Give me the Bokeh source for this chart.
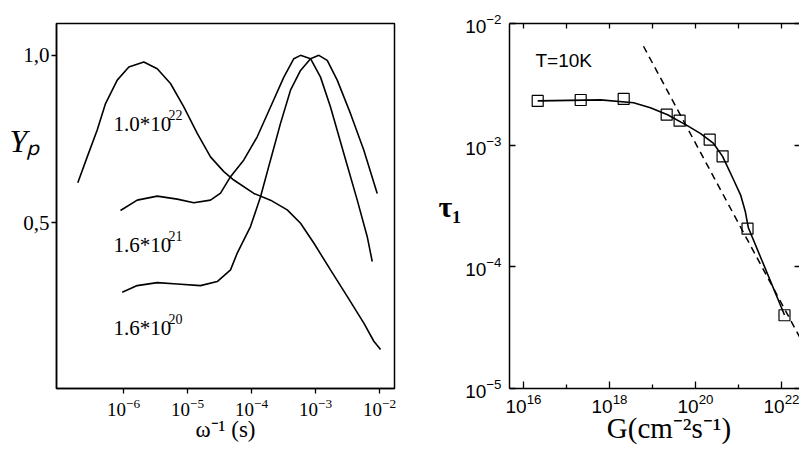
from bokeh.plotting import figure
from bokeh.models import Range1d, FixedTicker, LogAxis, Label
from bokeh.layouts import row
from bokeh.embed import file_html
from bokeh.resources import INLINE

# ---------------- Left panel: Y_P vs omega^-1 (log10 of seconds) ----------------
a_logx = [-6.714, -6.567, -6.411, -6.281, -6.098, -5.917, -5.683, -5.473, -5.266, -5.058,
          -4.848, -4.641, -4.433, -4.277, -3.964, -3.703, -3.442, -3.234, -3.027, -2.766,
          -2.505, -2.245, -2.089, -1.984]
a_y = [0.620, 0.697, 0.777, 0.856, 0.926, 0.965, 0.980, 0.960, 0.916, 0.846,
       0.767, 0.697, 0.653, 0.628, 0.588, 0.568, 0.539, 0.499, 0.440, 0.360,
       0.281, 0.201, 0.147, 0.122]

b_logx = [-6.047, -5.786, -5.473, -5.161, -4.902, -4.641, -4.484, -4.328, -4.120, -3.911,
          -3.703, -3.495, -3.339, -3.234, -3.078, -2.922, -2.766, -2.558, -2.348, -2.192, -2.114]
b_y = [0.537, 0.568, 0.580, 0.571, 0.560, 0.568, 0.589, 0.638, 0.688, 0.757,
       0.846, 0.935, 0.990, 1.000, 0.990, 0.935, 0.846, 0.707, 0.568, 0.459, 0.385]

c_logx = [-6.020, -5.786, -5.473, -5.161, -4.797, -4.536, -4.328, -4.223, -4.016, -3.859,
          -3.703, -3.547, -3.391, -3.234, -3.078, -2.948, -2.817, -2.661, -2.453, -2.245, -2.036]
c_y = [0.293, 0.313, 0.322, 0.318, 0.313, 0.325, 0.360, 0.410, 0.489, 0.578,
       0.688, 0.797, 0.896, 0.955, 0.990, 1.000, 0.985, 0.926, 0.826, 0.717, 0.588]

left_xticks = [1e-6, 1e-5, 1e-4, 1e-3, 1e-2]
left_yticks = [0.5, 1.0]
left_ylabels = {0.5: "0,5", 1.0: "1,0"}

curve_labels = [("1.0*10", "22"), ("1.6*10", "21"), ("1.6*10", "20")]

# ---------------- Right panel: tau_1 vs G ----------------
g_exp = [16.33, 17.33, 18.33, 19.33, 19.63, 20.33, 20.63, 21.21, 22.07]
tau = [2.31e-3, 2.35e-3, 2.40e-3, 1.78e-3, 1.59e-3, 1.11e-3, 8.1e-4, 2.06e-4, 4.0e-5]

fit_g_exp = [16.33, 17.79, 18.56, 18.95, 19.35, 19.81, 20.12, 20.42, 20.63, 20.88,
             21.05, 21.16, 21.23, 22.07]
fit_tau_exp = [-2.636, -2.628, -2.652, -2.693, -2.750, -2.839, -2.905, -2.986, -3.092, -3.280,
               -3.410, -3.548, -3.679, -4.396]

dash_g_exp = [18.79, 22.42]
dash_tau_exp = [-2.187, -4.576]

right_xticks = [1e16, 1e18, 1e20, 1e22]
right_xminor = [1e17, 1e19, 1e21]
right_alldec = [1e16, 1e17, 1e18, 1e19, 1e20, 1e21, 1e22]
right_yticks = [1e-5, 1e-4, 1e-3, 1e-2]

SERIF = "Liberation Serif"
SANS = "Liberation Sans"


def set_orientation(axis):
    try:
        axis.axis_label_orientation = "horizontal"
    except Exception:
        pass


# ================= LEFT FIGURE =================
left = figure(width=400, height=450, x_axis_type="log",
              x_range=Range1d(10 ** -7.047, 10 ** -1.766), y_range=Range1d(0.006, 1.095),
              output_backend="svg", toolbar_location=None,
              min_border_left=56, min_border_right=6, min_border_top=23, min_border_bottom=61)
left.grid.visible = False
left.outline_line_color = "black"
left.outline_line_width = 1.5
left.outline_line_alpha = 1.0

for lx, ly in ((a_logx, a_y), (b_logx, b_y), (c_logx, c_y)):
    left.line([10 ** v for v in lx], ly, line_color="black", line_width=1.6)

xa = left.xaxis[0]
xa.ticker = FixedTicker(ticks=left_xticks)
xa.major_tick_out = 5
xa.major_tick_in = 0
xa.minor_tick_out = 0
xa.minor_tick_in = 0
xa.axis_line_width = 1.5
xa.major_tick_line_width = 1.3
xa.major_label_text_font = SERIF
xa.major_label_text_font_size = "19px"
xa.major_label_text_color = "black"
xa.major_label_standoff = 5
xa.axis_label = "ω⁻¹ (s)"
xa.axis_label_text_font = SERIF
xa.axis_label_text_font_style = "normal"
xa.axis_label_text_font_size = "23px"
xa.axis_label_text_color = "black"
xa.axis_label_standoff = -2

ya = left.yaxis[0]
ya.ticker = FixedTicker(ticks=left_yticks)
ya.major_label_overrides = left_ylabels
ya.major_tick_out = 5
ya.major_tick_in = 0
ya.minor_tick_out = 0
ya.minor_tick_in = 0
ya.axis_line_width = 1.5
ya.major_tick_line_width = 1.3
ya.major_label_text_font = SERIF
ya.major_label_text_font_size = "21px"
ya.major_label_text_color = "black"
ya.major_label_standoff = 2
ya.axis_label = "Yₚ\n\n\n"
ya.axis_label_text_font = SERIF
ya.axis_label_text_font_style = "italic"
ya.axis_label_text_font_size = "32px"
ya.axis_label_text_color = "black"
ya.axis_label_standoff = -20
set_orientation(ya)


def add_label(p, x, y, text, font, size, style="normal", align="left"):
    p.add_layout(Label(x=x, y=y, text=text, text_font=font, text_font_size=size,
                       text_font_style=style, text_align=align,
                       text_baseline="alphabetic", text_color="black"))


# curve labels (base + exponent)
lab_y_main = [0.7946, 0.4345, 0.1875]
lab_y_exp = [0.8214, 0.4613, 0.2143]
for (base, ex), ym, ye in zip(curve_labels, lab_y_main, lab_y_exp):
    add_label(left, 10 ** -6.156, ym, base, SERIF, "21px")
    add_label(left, 10 ** -5.297, ye, ex, SERIF, "14px")

# ================= RIGHT FIGURE =================
right = figure(width=399, height=450, x_axis_type="log", y_axis_type="log",
               x_range=Range1d(10 ** 15.674, 10 ** 22.419), y_range=Range1d(1e-5, 1e-2),
               output_backend="svg", toolbar_location=None,
               min_border_left=109, min_border_right=0, min_border_top=20, min_border_bottom=62)
right.grid.visible = False
right.outline_line_color = None

right.line([10 ** v for v in dash_g_exp], [10 ** v for v in dash_tau_exp],
           line_color="black", line_width=1.5, line_dash="7 5")
right.line([10 ** v for v in fit_g_exp], [10 ** v for v in fit_tau_exp],
           line_color="black", line_width=1.6)
right.scatter([10 ** v for v in g_exp], tau, marker="square", size=11,
              fill_color=None, line_color="black", line_width=1.2)

rx = right.xaxis[0]
rx.ticker = FixedTicker(ticks=right_xticks, minor_ticks=right_xminor)
rx.major_tick_in = 7
rx.major_tick_out = 0
rx.minor_tick_in = 4
rx.minor_tick_out = 0
rx.axis_line_width = 1.5
rx.major_tick_line_width = 1.3
rx.minor_tick_line_width = 1.3
rx.major_label_text_font = SANS
rx.major_label_text_font_size = "19px"
rx.major_label_text_color = "black"
rx.major_label_standoff = 5
rx.axis_label = "\u00a0\u00a0\u00a0\u00a0G(cm⁻²s⁻¹)"
rx.axis_label_text_font = SERIF
rx.axis_label_text_font_style = "normal"
rx.axis_label_text_font_size = "29px"
rx.axis_label_text_color = "black"
rx.axis_label_standoff = -4

ry = right.yaxis[0]
ry.ticker = FixedTicker(ticks=right_yticks)
ry.major_tick_in = 6
ry.major_tick_out = 0
ry.minor_tick_in = 0
ry.minor_tick_out = 0
ry.axis_line_width = 1.5
ry.major_tick_line_width = 1.3
ry.major_label_text_font = SANS
ry.major_label_text_font_size = "19px"
ry.major_label_text_color = "black"
ry.major_label_standoff = 8
ry.axis_label = "τ₁"
ry.axis_label_text_font = SERIF
ry.axis_label_text_font_style = "bold"
ry.axis_label_text_font_size = "30px"
ry.axis_label_text_color = "black"
ry.axis_label_standoff = 1
set_orientation(ry)

top = LogAxis(ticker=FixedTicker(ticks=right_alldec))
top.major_tick_in = 5
top.major_tick_out = 0
top.minor_tick_in = 0
top.minor_tick_out = 0
top.axis_line_width = 1.5
top.major_tick_line_width = 1.3
top.major_label_text_font_size = "1px"
top.major_label_text_color = None
top.major_label_standoff = 0
right.add_layout(top, "above")

rr = LogAxis(ticker=FixedTicker(ticks=right_yticks))
rr.major_tick_in = 5
rr.major_tick_out = 0
rr.minor_tick_in = 0
rr.minor_tick_out = 0
rr.axis_line_color = None
rr.major_tick_line_width = 1.3
rr.major_label_text_font_size = "1px"
rr.major_label_text_color = None
rr.major_label_standoff = 0
right.add_layout(rr, "right")

# annotation inside the frame
add_label(right, 10 ** 16.279, 10 ** -2.3016, "T=10K", SANS, "19px")

layout = row(left, right)
open("out.html", "w").write(file_html(layout, INLINE))
